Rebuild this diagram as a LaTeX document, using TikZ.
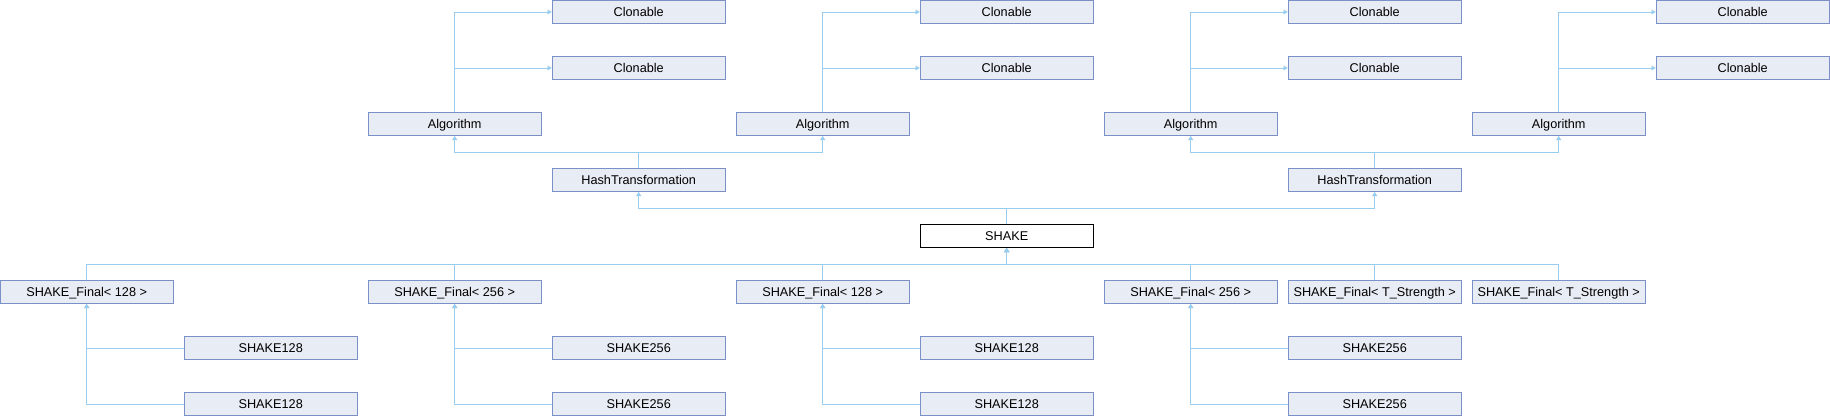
\documentclass[tikz,border=0pt]{standalone}
\usepackage{fontspec}
\setmainfont{Liberation Sans}
\usetikzlibrary{arrows.meta}
\definecolor{boxfill}{HTML}{E8ECF4}
\definecolor{boxline}{HTML}{7B90C8}
\definecolor{edgeblue}{HTML}{99CCEE}

\begin{document}
\begin{tikzpicture}
[every node/.style={inner sep=0pt},
 cls/.style={rectangle, minimum width=173.3pt, minimum height=23pt, text height=9.5pt, text depth=0.5pt, fill=boxfill, draw=boxline, line width=1pt, font=\fontsize{12.7}{14}\selectfont},
 cur/.style={cls, fill=white, draw=black},
 inh/.style={line width=1pt, draw=edgeblue, -{Triangle[length=4pt, width=5pt]}}]
\useasboundingbox (0pt,0pt) rectangle (1830pt,-416pt);
\node (cl1a) [cls] at (638.7pt, -12pt) {Clonable};
\node (cl2a) [cls] at (1006.7pt, -12pt) {Clonable};
\node (cl3a) [cls] at (1374.7pt, -12pt) {Clonable};
\node (cl4a) [cls] at (1742.7pt, -12pt) {Clonable};
\node (cl1b) [cls] at (638.7pt, -68pt) {Clonable};
\node (cl2b) [cls] at (1006.7pt, -68pt) {Clonable};
\node (cl3b) [cls] at (1374.7pt, -68pt) {Clonable};
\node (cl4b) [cls] at (1742.7pt, -68pt) {Clonable};
\node (alg1) [cls] at (454.7pt, -124pt) {Algorithm};
\node (alg2) [cls] at (822.7pt, -124pt) {Algorithm};
\node (alg3) [cls] at (1190.7pt, -124pt) {Algorithm};
\node (alg4) [cls] at (1558.7pt, -124pt) {Algorithm};
\node (ht1) [cls] at (638.7pt, -180pt) {HashTransformation};
\node (ht2) [cls] at (1374.7pt, -180pt) {HashTransformation};
\node (shake) [cur] at (1006.7pt, -236pt) {SHAKE};
\node (fin1) [cls] at (86.7pt, -292pt) {SHAKE\_Final< 128 >};
\node (fin2) [cls] at (454.7pt, -292pt) {SHAKE\_Final< 256 >};
\node (fin3) [cls] at (822.7pt, -292pt) {SHAKE\_Final< 128 >};
\node (fin4) [cls] at (1190.7pt, -292pt) {SHAKE\_Final< 256 >};
\node (fin5) [cls] at (1374.7pt, -292pt) {SHAKE\_Final< T\_Strength >};
\node (fin6) [cls] at (1558.7pt, -292pt) {SHAKE\_Final< T\_Strength >};
\node (s1a) [cls] at (270.7pt, -348pt) {SHAKE128};
\node (s2a) [cls] at (638.7pt, -348pt) {SHAKE256};
\node (s3a) [cls] at (1006.7pt, -348pt) {SHAKE128};
\node (s4a) [cls] at (1374.7pt, -348pt) {SHAKE256};
\node (s1b) [cls] at (270.7pt, -404pt) {SHAKE128};
\node (s2b) [cls] at (638.7pt, -404pt) {SHAKE256};
\node (s3b) [cls] at (1006.7pt, -404pt) {SHAKE128};
\node (s4b) [cls] at (1374.7pt, -404pt) {SHAKE256};
% Algorithm -> Clonable
\draw [inh] (alg1.north) |- (cl1a.west);
\draw [inh] (alg1.north) |- (cl1b.west);
\draw [inh] (alg2.north) |- (cl2a.west);
\draw [inh] (alg2.north) |- (cl2b.west);
\draw [inh] (alg3.north) |- (cl3a.west);
\draw [inh] (alg3.north) |- (cl3b.west);
\draw [inh] (alg4.north) |- (cl4a.west);
\draw [inh] (alg4.north) |- (cl4b.west);
% HashTransformation -> Algorithm
\draw [inh] (ht1.north) -- ++(0,16pt) -| (alg1.south);
\draw [inh] (ht1.north) -- ++(0,16pt) -| (alg2.south);
\draw [inh] (ht2.north) -- ++(0,16pt) -| (alg3.south);
\draw [inh] (ht2.north) -- ++(0,16pt) -| (alg4.south);
% SHAKE -> HashTransformation
\draw [inh] (shake.north) -- ++(0,16pt) -| (ht1.south);
\draw [inh] (shake.north) -- ++(0,16pt) -| (ht2.south);
% SHAKE_Final -> SHAKE
\draw [inh] (fin1.north) -- ++(0,16pt) -| (shake.south);
\draw [inh] (fin2.north) -- ++(0,16pt) -| (shake.south);
\draw [inh] (fin3.north) -- ++(0,16pt) -| (shake.south);
\draw [inh] (fin4.north) -- ++(0,16pt) -| (shake.south);
\draw [inh] (fin5.north) -- ++(0,16pt) -| (shake.south);
\draw [inh] (fin6.north) -- ++(0,16pt) -| (shake.south);
% SHAKE128/256 -> SHAKE_Final
\draw [inh] (s1a.west) -| (fin1.south);
\draw [inh] (s1b.west) -| (fin1.south);
\draw [inh] (s2a.west) -| (fin2.south);
\draw [inh] (s2b.west) -| (fin2.south);
\draw [inh] (s3a.west) -| (fin3.south);
\draw [inh] (s3b.west) -| (fin3.south);
\draw [inh] (s4a.west) -| (fin4.south);
\draw [inh] (s4b.west) -| (fin4.south);
\end{tikzpicture}
\end{document}
